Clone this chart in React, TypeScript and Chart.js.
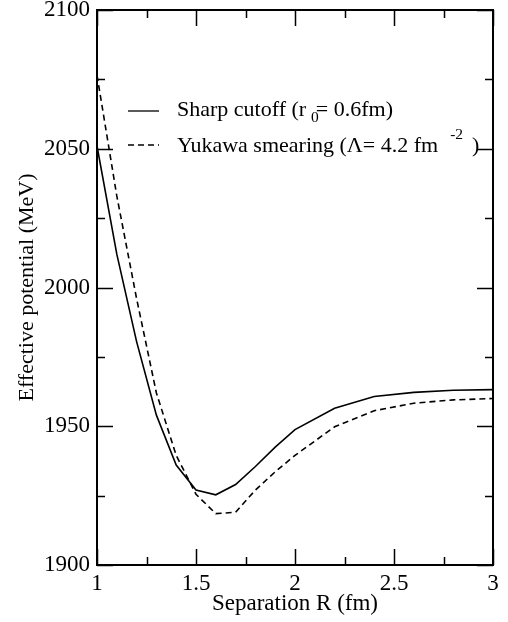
import React, { useEffect, useRef } from "react";
import { Chart, registerables } from "chart.js";

Chart.register(...registerables);

// ---- data ----
const separation = [1.0, 1.1, 1.2, 1.3, 1.4, 1.5, 1.6, 1.7, 1.8, 1.9, 2.0, 2.2, 2.4, 2.6, 2.8, 3.0];
const sharpCutoff = [2051, 2012, 1980.5, 1954, 1936, 1927, 1925.3, 1929, 1935.5, 1942.5, 1948.8, 1956.5, 1960.7, 1962.2, 1963, 1963.2];
const yukawaSmearing = [2076.5, 2033, 1996, 1962, 1939.5, 1925.5, 1918.5, 1919, 1927, 1933.6, 1939.5, 1949.8, 1955.6, 1958.3, 1959.5, 1960];
const xTickValues = [1, 1.5, 2, 2.5, 3];
const yTickValues = [1900, 1950, 2000, 2050, 2100];
const xTitle = "Separation R (fm)";
const yTitle = "Effective potential (MeV)";
const legendSharp = ["Sharp cutoff (r", "0", "= 0.6fm)"];
const legendYukawa = ["Yukawa smearing (\u039B= 4.2 fm", "-2", ")"];

const FONT = "'Liberation Serif', 'Times New Roman', serif";

const framePlugin = {
  id: "frameTicksLegend",
  afterDraw(chart: any) {
    const { ctx, chartArea: a, scales } = chart;
    const xs = scales.x;
    const ys = scales.y;
    ctx.save();
    ctx.strokeStyle = "#000";
    ctx.fillStyle = "#000";

    // inward ticks on all four sides
    const majorLen = 16;
    const minorLen = 8;
    ctx.lineWidth = 1.5;
    const xMaj = xs.ticks.map((t: any) => t.value);
    const yMaj = ys.ticks.map((t: any) => t.value);
    const mids = (arr: number[]) => arr.slice(1).map((v, i) => (v + arr[i]) / 2);
    const xMin = mids(xMaj);
    const yMin = mids(yMaj);
    const drawX = (vals: number[], len: number) => {
      vals.forEach((v) => {
        const px = Math.round(xs.getPixelForValue(v)) + 0.5;
        ctx.beginPath();
        ctx.moveTo(px, a.bottom);
        ctx.lineTo(px, a.bottom - len);
        ctx.moveTo(px, a.top);
        ctx.lineTo(px, a.top + len);
        ctx.stroke();
      });
    };
    const drawY = (vals: number[], len: number) => {
      vals.forEach((v) => {
        const py = Math.round(ys.getPixelForValue(v)) + 0.5;
        ctx.beginPath();
        ctx.moveTo(a.left, py);
        ctx.lineTo(a.left + len, py);
        ctx.moveTo(a.right, py);
        ctx.lineTo(a.right - len, py);
        ctx.stroke();
      });
    };
    drawX(xMaj, majorLen);
    drawX(xMin, minorLen);
    drawY(yMaj, majorLen);
    drawY(yMin, minorLen);

    // frame
    ctx.lineWidth = 2;
    ctx.strokeRect(a.left, a.top, a.right - a.left, a.bottom - a.top);

    // legend
    const main = `22px ${FONT}`;
    const small = `15.5px ${FONT}`;
    const lx0 = a.left + 31;
    const lx1 = a.left + 62;
    const tx = a.left + 80;
    const y1 = a.top + 101;
    const y2 = a.top + 135;
    ctx.lineWidth = 1.3;
    ctx.setLineDash([]);
    ctx.beginPath();
    ctx.moveTo(lx0, y1);
    ctx.lineTo(lx1, y1);
    ctx.stroke();
    ctx.setLineDash([6, 4]);
    ctx.beginPath();
    ctx.moveTo(lx0, y2);
    ctx.lineTo(lx1, y2);
    ctx.stroke();
    ctx.setLineDash([]);

    ctx.textAlign = "left";
    ctx.textBaseline = "alphabetic";
    // line 1 with subscript
    let x = tx;
    ctx.font = main;
    ctx.fillText(legendSharp[0], x, y1 + 4.5);
    x += ctx.measureText(legendSharp[0]).width + 5;
    ctx.font = small;
    ctx.fillText(legendSharp[1], x, y1 + 11);
    x += ctx.measureText(legendSharp[1]).width - 3;
    ctx.font = main;
    ctx.fillText(legendSharp[2], x, y1 + 4.5);
    // line 2 with superscript
    x = tx;
    ctx.font = main;
    ctx.fillText(legendYukawa[0], x, y2 + 6.5);
    x += ctx.measureText(legendYukawa[0]).width + 12;
    ctx.font = small;
    ctx.fillText(legendYukawa[1], x, y2 - 6);
    x += ctx.measureText(legendYukawa[1]).width + 9;
    ctx.font = main;
    ctx.fillText(legendYukawa[2], x, y2 + 6.5);

    ctx.restore();
  },
};

export default function App() {
  const canvasRef = useRef<HTMLCanvasElement | null>(null);

  useEffect(() => {
    if (!canvasRef.current) return;
    Chart.defaults.font.family = FONT;
    Chart.defaults.color = "#000";
    const chart = new Chart(canvasRef.current, {
      type: "line",
      data: {
        datasets: [
          {
            label: "Sharp cutoff",
            data: separation.map((r, i) => ({ x: r, y: sharpCutoff[i] })),
            borderColor: "#000",
            borderWidth: 1.6,
            pointRadius: 0,
            tension: 0,
            fill: false,
          },
          {
            label: "Yukawa smearing",
            data: separation.map((r, i) => ({ x: r, y: yukawaSmearing[i] })),
            borderColor: "#000",
            borderWidth: 1.6,
            borderDash: [6, 4],
            pointRadius: 0,
            tension: 0,
            fill: false,
          },
        ],
      },
      options: {
        animation: false,
        responsive: false,
        maintainAspectRatio: false,
        layout: { padding: { top: 10, right: 15, left: 0, bottom: 0 } },
        plugins: {
          legend: { display: false },
          tooltip: { enabled: false },
        },
        scales: {
          x: {
            type: "linear",
            min: xTickValues[0],
            max: xTickValues[xTickValues.length - 1],
            afterBuildTicks: (scale: any) => {
              scale.ticks = xTickValues.map((v) => ({ value: v }));
            },
            ticks: {
              callback: (v: any) => String(v),
              font: { size: 23, family: FONT },
              color: "#000",
              padding: 5,
              maxRotation: 0,
              autoSkip: false,
            },
            grid: { display: false, drawTicks: false },
            border: { display: false },
            title: {
              display: true,
              text: xTitle,
              font: { size: 23, family: FONT },
              color: "#000",
              padding: { top: 0, bottom: 4 },
            },
            afterFit: (scale: any) => {
              scale.height = 57;
              scale.paddingLeft = 0;
              scale.paddingRight = 0;
            },
          },
          y: {
            type: "linear",
            min: yTickValues[0],
            max: yTickValues[yTickValues.length - 1],
            afterBuildTicks: (scale: any) => {
              scale.ticks = yTickValues.map((v) => ({ value: v }));
            },
            ticks: {
              callback: (v: any) => String(v),
              font: { size: 23, family: FONT },
              color: "#000",
              padding: 7,
              autoSkip: false,
            },
            grid: { display: false, drawTicks: false },
            border: { display: false },
            title: {
              display: true,
              text: yTitle,
              font: { size: 22, family: FONT },
              color: "#000",
              padding: { top: 14, bottom: 0 },
            },
            afterFit: (scale: any) => {
              scale.width = 97;
              scale.paddingTop = 0;
              scale.paddingBottom = 0;
            },
          },
        },
      },
      plugins: [framePlugin],
    } as any);
    return () => chart.destroy();
  }, []);

  return (
    <div style={{ position: "absolute", left: 0, top: 0, width: 508, height: 622, background: "#fff" }}>
      <canvas ref={canvasRef} width={508} height={622} style={{ display: "block" }} />
    </div>
  );
}
